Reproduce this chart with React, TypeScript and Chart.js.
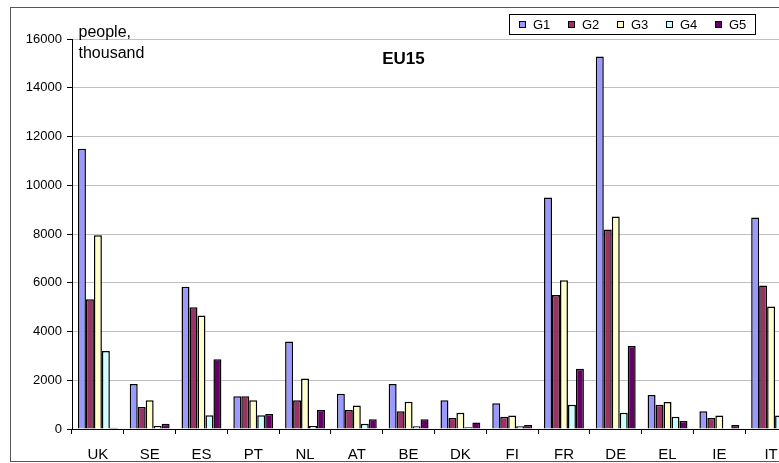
import React, { useEffect, useRef } from "react";
import { Chart, registerables } from "chart.js";

Chart.register(...registerables);

const categories = ["UK", "SE", "ES", "PT", "NL", "AT", "BE", "DK", "FI", "FR", "DE", "EL", "IE", "IT"];
const g1 = [11500, 1850, 5840, 1340, 3590, 1450, 1850, 1180, 1060, 9500, 15280, 1400, 730, 8680];
const g2 = [5320, 900, 4990, 1340, 1180, 780, 730, 450, 500, 5500, 8180, 1000, 450, 5890];
const g3 = [7950, 1180, 4660, 1180, 2070, 960, 1120, 670, 550, 6100, 8720, 1110, 550, 5030];
const g4 = [3200, 120, 560, 560, 120, 220, 110, 70, 110, 1000, 670, 500, 0, 550];
const g5 = [50, 220, 2860, 620, 780, 400, 400, 270, 160, 2470, 3410, 330, 160, 2180];
const seriesNames = ["G1", "G2", "G3", "G4", "G5"];
const seriesColors = ["#9999FF", "#993366", "#FFFFCC", "#CCFFFF", "#660066"];
const yTickValues = [0, 2000, 4000, 6000, 8000, 10000, 12000, 14000, 16000];
const chartTitle = "EU15";
const unitLines = ["people,", "thousand"];

const FONT = "'Liberation Sans', Arial, Helvetica, sans-serif";

const overlay = {
  id: "overlay",
  beforeDraw(chart: any) {
    const ctx = chart.ctx;
    ctx.save();
    ctx.fillStyle = "#ffffff";
    ctx.fillRect(0, 0, chart.width, chart.height);
    ctx.strokeStyle = "#555555";
    ctx.lineWidth = 1;
    ctx.strokeRect(10.5, 7.5, chart.width + 40, 454);
    ctx.restore();
  },
  afterDraw(chart: any) {
    const { ctx, chartArea } = chart;
    ctx.save();
    ctx.fillStyle = "#000";
    ctx.textAlign = "left";
    ctx.textBaseline = "alphabetic";
    ctx.font = `16px ${FONT}`;
    ctx.fillText(unitLines[0], chartArea.left + 6.5, 37);
    ctx.fillText(unitLines[1], chartArea.left + 6.5, 57.5);

    ctx.font = `bold 17px ${FONT}`;
    ctx.textAlign = "center";
    ctx.fillText(chartTitle, chartArea.left + 331.5, 64);

    // legend box
    const lx = 509.5, ly = 14.5, lw = 246, lh = 20;
    ctx.fillStyle = "#fff";
    ctx.fillRect(lx, ly, lw, lh);
    ctx.strokeStyle = "#000";
    ctx.lineWidth = 1;
    ctx.strokeRect(lx, ly, lw, lh);
    ctx.font = `13px ${FONT}`;
    ctx.textAlign = "left";
    chart.data.datasets.forEach((ds: any, i: number) => {
      const x = Math.round(519 + i * 49.1);
      ctx.fillStyle = ds.backgroundColor;
      ctx.fillRect(x + 0.5, 21.5, 6, 6);
      ctx.strokeStyle = "#000";
      ctx.strokeRect(x + 0.5, 21.5, 6, 6);
      ctx.fillStyle = "#000";
      ctx.fillText(ds.label, x + 14, 28.7);
    });
    ctx.restore();
  },
};

export default function App() {
  const canvasRef = useRef<HTMLCanvasElement | null>(null);

  useEffect(() => {
    if (!canvasRef.current) return;
    const seriesData = [g1, g2, g3, g4, g5];
    const chart = new Chart(canvasRef.current, {
      type: "bar",
      data: {
        labels: categories,
        datasets: seriesData.map((d, i) => ({
          label: seriesNames[i],
          data: d,
          backgroundColor: seriesColors[i],
          borderColor: "#000000",
          borderWidth: 1.5,
          borderSkipped: "start",
          categoryPercentage: 0.77,
          barPercentage: 1.0,
        })),
      },
      options: {
        animation: false,
        responsive: true,
        maintainAspectRatio: false,
        layout: { padding: { left: 10, top: 39, right: 3, bottom: 0 } },
        plugins: {
          legend: { display: false },
          title: { display: false },
          tooltip: { enabled: false },
        },
        scales: {
          x: {
            offset: true,
            grid: {
              display: true,
              drawOnChartArea: false,
              drawTicks: true,
              tickLength: 5,
              tickColor: "#000",
              offset: true,
            },
            border: { display: true, color: "#000", width: 1 },
            ticks: {
              color: "#000",
              font: { family: FONT, size: 15 },
              padding: 12,
              maxRotation: 0,
              autoSkip: false,
            },
            afterFit(scale: any) {
              scale.height = 34;
            },
          },
          y: {
            min: 0,
            max: 16000,
            afterBuildTicks(scale: any) {
              scale.ticks = yTickValues.map((v) => ({ value: v }));
            },
            grid: {
              color: (c: any) => (c.tick && c.tick.value === 0 ? "#000" : "#c0c0c0"),
              tickColor: "#000",
              tickLength: 5,
              lineWidth: 1,
            },
            border: { display: true, color: "#000", width: 1 },
            ticks: {
              color: "#000",
              font: { family: FONT, size: 13 },
              padding: 5,
              callback: (v: any) => String(v),
            },
            afterFit(scale: any) {
              scale.width = 62;
            },
          },
        },
      },
      plugins: [overlay],
    });
    return () => chart.destroy();
  }, []);

  return (
    <div style={{ position: "fixed", left: 0, top: 0, width: 779, height: 463, overflow: "hidden", background: "#fff" }}>
      <div style={{ position: "relative", width: 800, height: 463 }}>
        <canvas ref={canvasRef} />
      </div>
    </div>
  );
}
